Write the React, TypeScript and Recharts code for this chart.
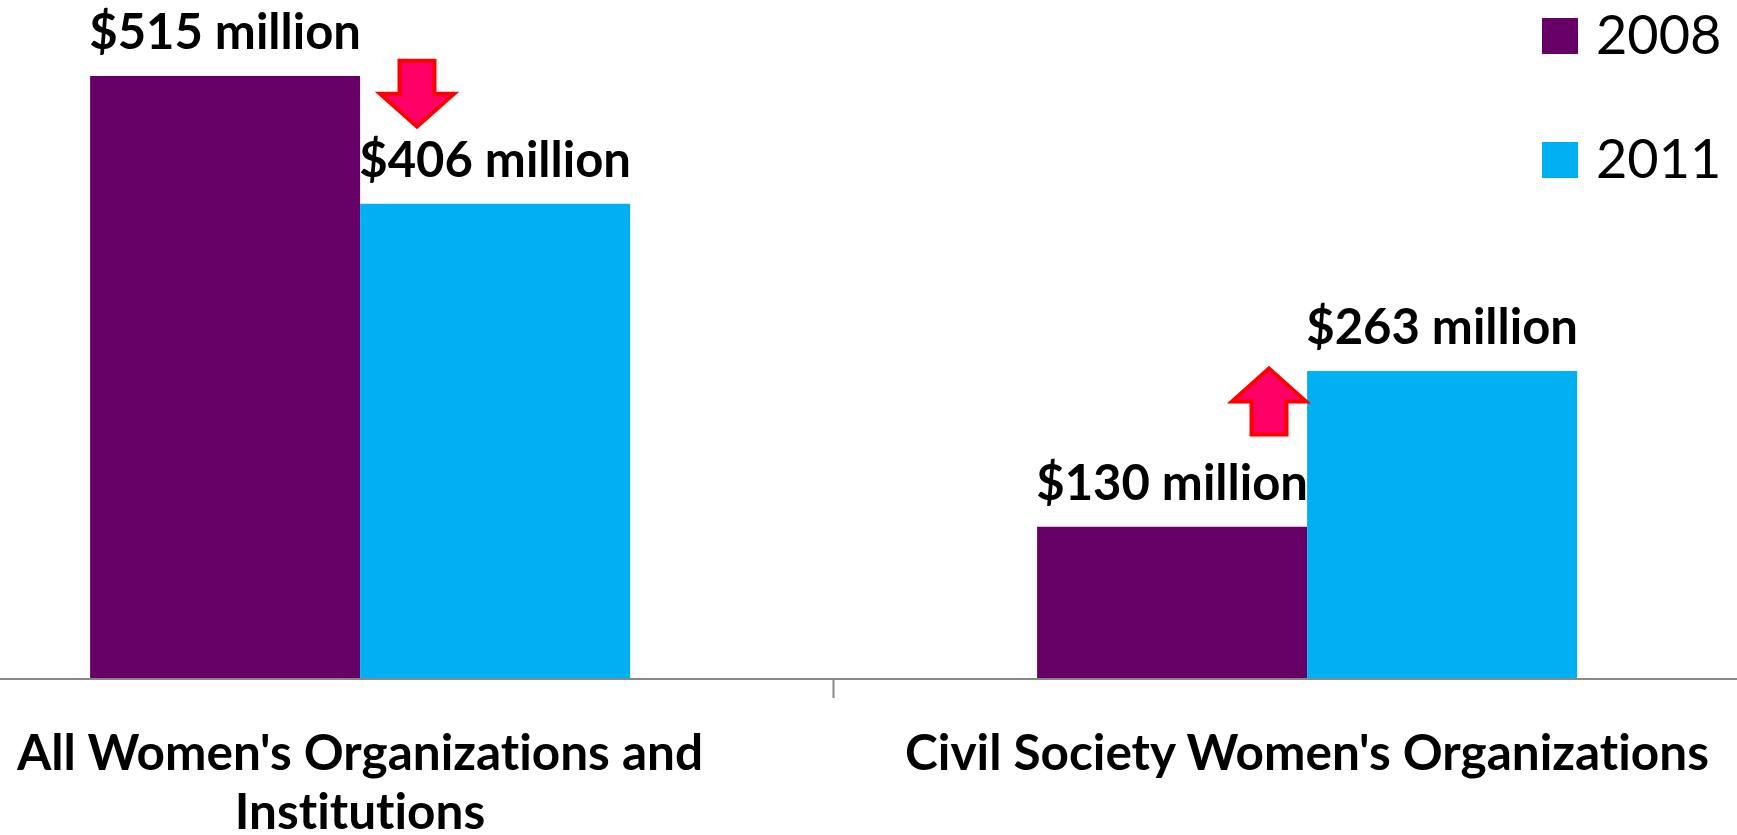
import React from 'react';
import { BarChart, Bar, XAxis, YAxis, Legend, LabelList, ReferenceDot } from 'recharts';

const categories = ["All Women's Organizations and Institutions", "Civil Society Women's Organizations"];
const tickLines = [["All Women's Organizations and", 'Institutions'], ["Civil Society Women's Organizations"]];
const values2008 = [515, 130];
const values2011 = [406, 263];
const arrows = [
    { category: categories[0], value: 500, direction: 'down' },
    { category: categories[1], value: 237, direction: 'up' },
];

const data = categories.map((name, i) => ({ name, y2008: values2008[i], y2011: values2011[i] }));

const W = 1737;
const H = 835;
// plot area runs past the picture edges (the original is cropped)
const PLOT_LEFT = -113.5;
const PLOT_W = 1894;
const BAND = PLOT_W / categories.length;
const FONT = 'Lato, sans-serif';
const NO_LIGA = { fontVariantLigatures: 'none' as const, fontFeatureSettings: '"liga" 0, "clig" 0' };

const CategoryTick = (props: any) => {
    const { x, y, index } = props;
    const lines = tickLines[index] || [];
    return (
        <g>
            <line x1={x - BAND / 2} x2={x - BAND / 2} y1={y} y2={y + 19} stroke="#888" strokeWidth={2} />
            <text textAnchor="middle" fontFamily={FONT} fontWeight={700} fontSize={49.5} fill="#000" style={NO_LIGA}>
                {lines.map((l, i) => (
                    <tspan key={i} x={x} y={y + 91 + i * 59}>{l}</tspan>
                ))}
            </text>
        </g>
    );
};

const Arrow = (props: any) => {
    const { cx, cy, direction } = props;
    const dx = direction === 'down' ? 57 : -38;
    const x = cx + dx;
    const w = 74, h = 66, s = 35, hh = 33;
    const t = cy - h / 2;
    const b = cy + h / 2;
    let pts;
    if (direction === 'down') {
        pts = [[x - s / 2, t], [x + s / 2, t], [x + s / 2, b - hh], [x + w / 2, b - hh], [x, b], [x - w / 2, b - hh], [x - s / 2, b - hh]];
    } else {
        pts = [[x - s / 2, b], [x + s / 2, b], [x + s / 2, t + hh], [x + w / 2, t + hh], [x, t], [x - w / 2, t + hh], [x - s / 2, t + hh]];
    }
    return <polygon points={pts.map((p) => p.join(',')).join(' ')} fill="#FF0066" stroke="#FF0000" strokeWidth={4} strokeLinejoin="miter" />;
};

const LegendContent = (props: any) => {
    const { payload } = props;
    return (
        <div style={{ display: 'flex', flexDirection: 'column', gap: 57 }}>
            {(payload || []).map((item: any) => (
                <div key={item.value} style={{ display: 'flex', alignItems: 'center', height: 67 }}>
                    <div style={{ width: 36, height: 36, background: item.color, marginRight: 18, marginTop: 4 }} />
                    <span style={{ fontFamily: FONT, fontSize: 54, lineHeight: 1, color: '#000' }}>{item.value}</span>
                </div>
            ))}
        </div>
    );
};

const labelStyle = { fontFamily: FONT, fontWeight: 700, fontSize: 49, fill: '#000', ...NO_LIGA };

export default function App() {
    return (
        <div style={{ position: 'absolute', left: 0, top: 0, width: W, height: H, overflow: 'hidden', background: '#fff' }}>
            <BarChart
                width={W}
                height={H}
                data={data}
                barCategoryGap="21.5%"
                barGap={0}
                margin={{ top: 0, right: W - PLOT_LEFT - PLOT_W, bottom: 0, left: PLOT_LEFT }}
            >
                <XAxis
                    dataKey="name"
                    height={156}
                    tickLine={false}
                    tickSize={0}
                    tickMargin={0}
                    axisLine={{ stroke: '#888', strokeWidth: 2 }}
                    tick={<CategoryTick />}
                    interval={0}
                />
                <YAxis hide domain={[0, 580]} />
                <Legend
                    layout="vertical"
                    align="center"
                    verticalAlign="middle"
                    content={<LegendContent />}
                    wrapperStyle={{ top: 0, left: 1542, width: 195 }}
                />
                <Bar dataKey="y2008" name="2008" fill="#660066" isAnimationActive={false}>
                    <LabelList
                        dataKey="y2008"
                        position="top"
                        offset={27}
                        formatter={(v: any) => `$${v} million`}
                        style={labelStyle}
                    />
                </Bar>
                <Bar dataKey="y2011" name="2011" fill="#00B0F0" isAnimationActive={false}>
                    <LabelList
                        dataKey="y2011"
                        position="top"
                        offset={27}
                        formatter={(v: any) => `$${v} million`}
                        style={labelStyle}
                    />
                </Bar>
                {arrows.map((a) => (
                    <ReferenceDot
                        key={a.category}
                        x={a.category}
                        y={a.value}
                        r={0}
                        shape={(p: any) => <Arrow {...p} direction={a.direction} />}
                    />
                ))}
            </BarChart>
        </div>
    );
}
